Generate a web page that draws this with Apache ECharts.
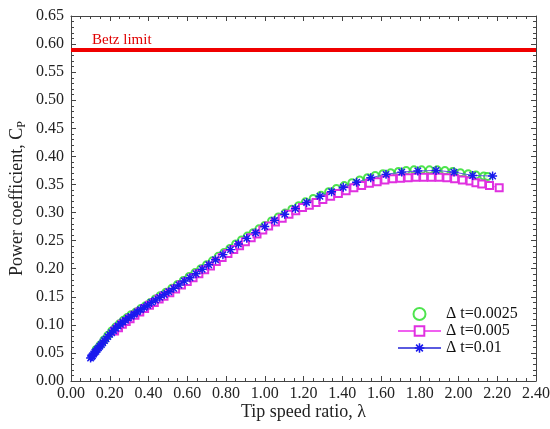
<!DOCTYPE html>
<html>
<head>
<meta charset="utf-8">
<script src="https://cdn.jsdelivr.net/npm/echarts@6/dist/echarts.min.js"></script>
<style>
  html, body { margin: 0; padding: 0; background: #fff; }
  #chart { width: 550px; height: 429px; }
</style>
</head>
<body>
<div id="chart"></div>
<script>
// tick settings
const xMin = 0, xMax = 2.4, xStep = 0.2
const yMin = 0, yMax = 0.65, yStep = 0.05
const betzLimit = 0.593

const seriesNames = ['Δ t=0.0025', 'Δ t=0.005', 'Δ t=0.01']

// Δt = 0.0025 (green circles)
const lambdaA = [0.130, 0.150, 0.170, 0.190, 0.210, 0.230, 0.250, 0.270, 0.290, 0.310,
  0.335, 0.360, 0.385, 0.410, 0.435, 0.460, 0.490, 0.520, 0.550, 0.580,
  0.610, 0.640, 0.670, 0.700, 0.730, 0.760, 0.790, 0.820, 0.850, 0.880,
  0.910, 0.940, 0.970, 1.000, 1.035, 1.070, 1.105, 1.140, 1.175, 1.210,
  1.250, 1.290, 1.330, 1.370, 1.410, 1.450, 1.490, 1.530, 1.570, 1.610,
  1.650, 1.690, 1.730, 1.770, 1.810, 1.850, 1.890, 1.930, 1.970, 2.010,
  2.050, 2.090, 2.130, 2.150]
const cpA = [0.056, 0.064, 0.073, 0.081, 0.089, 0.096, 0.102, 0.108, 0.113, 0.118,
  0.123, 0.129, 0.134, 0.140, 0.146, 0.152, 0.158, 0.165, 0.172, 0.179,
  0.186, 0.193, 0.200, 0.207, 0.214, 0.222, 0.229, 0.236, 0.244, 0.251,
  0.258, 0.264, 0.271, 0.277, 0.285, 0.292, 0.299, 0.306, 0.312, 0.319,
  0.325, 0.331, 0.337, 0.343, 0.348, 0.353, 0.358, 0.362, 0.366, 0.369,
  0.371, 0.373, 0.375, 0.376, 0.376, 0.376, 0.376, 0.375, 0.373, 0.371,
  0.369, 0.367, 0.365, 0.364]

// Δt = 0.005 (magenta squares)
const lambdaB = [0.225, 0.245, 0.265, 0.285, 0.305, 0.330, 0.355, 0.380, 0.405, 0.430,
  0.455, 0.480, 0.510, 0.540, 0.570, 0.600, 0.630, 0.660, 0.690, 0.720,
  0.750, 0.780, 0.810, 0.840, 0.870, 0.900, 0.930, 0.960, 0.990, 1.020,
  1.055, 1.090, 1.125, 1.160, 1.195, 1.230, 1.265, 1.300, 1.340, 1.380,
  1.420, 1.460, 1.500, 1.540, 1.580, 1.620, 1.660, 1.700, 1.740, 1.780,
  1.820, 1.860, 1.900, 1.940, 1.980, 2.020, 2.060, 2.090, 2.120, 2.160,
  2.210]
const cpB = [0.089, 0.095, 0.101, 0.106, 0.111, 0.117, 0.123, 0.129, 0.135, 0.140,
  0.146, 0.151, 0.157, 0.164, 0.171, 0.177, 0.184, 0.191, 0.198, 0.205,
  0.213, 0.220, 0.227, 0.234, 0.241, 0.248, 0.255, 0.262, 0.269, 0.276,
  0.283, 0.290, 0.297, 0.303, 0.309, 0.313, 0.318, 0.323, 0.329, 0.334,
  0.339, 0.344, 0.348, 0.352, 0.355, 0.358, 0.360, 0.361, 0.362, 0.363,
  0.363, 0.363, 0.363, 0.362, 0.360, 0.358, 0.356, 0.353, 0.351, 0.348,
  0.344]

// Δt = 0.01 (blue stars)
const lambdaC = [0.101, 0.106, 0.111, 0.117, 0.123, 0.129, 0.135, 0.142, 0.149, 0.157,
  0.164, 0.173, 0.181, 0.190, 0.200, 0.210, 0.220, 0.231, 0.243, 0.255,
  0.268, 0.281, 0.295, 0.310, 0.326, 0.342, 0.359, 0.377, 0.396, 0.416,
  0.436, 0.458, 0.481, 0.505, 0.530, 0.557, 0.585, 0.614, 0.645, 0.677,
  0.711, 0.746, 0.784, 0.823, 0.864, 0.907, 0.953, 1.000, 1.050, 1.103,
  1.158, 1.216, 1.285, 1.345, 1.405, 1.474, 1.547, 1.626, 1.707, 1.790,
  1.884, 1.977, 2.073, 2.176]
const cpC = [0.041, 0.043, 0.045, 0.048, 0.051, 0.053, 0.056, 0.059, 0.062, 0.065,
  0.068, 0.072, 0.075, 0.079, 0.083, 0.086, 0.090, 0.094, 0.098, 0.101,
  0.105, 0.108, 0.112, 0.115, 0.119, 0.123, 0.127, 0.131, 0.135, 0.140,
  0.144, 0.149, 0.154, 0.159, 0.165, 0.171, 0.178, 0.184, 0.191, 0.199,
  0.207, 0.216, 0.225, 0.234, 0.244, 0.254, 0.264, 0.275, 0.286, 0.297,
  0.307, 0.318, 0.329, 0.337, 0.345, 0.354, 0.362, 0.368, 0.372, 0.374,
  0.375, 0.372, 0.366, 0.365]

const pairs = (xs, ys) => xs.map((x, i) => [x, ys[i]])

const serif = 'Liberation Serif, Times New Roman, serif'
const axisColor = '#444'
const textColor = '#222'

// asterisk marker
const starPath = 'path://M4.2 0L5.8 0L5.8 10L4.2 10Z M0 4.2L10 4.2L10 5.8L0 5.8Z' +
  'M0.89 2.03L2.03 0.89L9.11 7.97L7.97 9.11Z M0.89 7.97L7.97 0.89L9.11 2.03L2.03 9.11Z'

const baseAxis = (min, max, interval, minorSplit) => ({
  type: 'value',
  min: min,
  max: max,
  interval: interval,
  axisLine: { show: true, onZero: false, lineStyle: { color: axisColor, width: 1 } },
  axisTick: { show: true, inside: true, length: 5, lineStyle: { color: axisColor } },
  minorTick: { show: true, splitNumber: minorSplit, length: 3, lineStyle: { color: axisColor } },
  splitLine: { show: false },
  minorSplitLine: { show: false }
})

const chart = echarts.init(document.getElementById('chart'))

chart.setOption({
  animation: false,
  backgroundColor: '#fff',
  grid: { left: 71, right: 14, top: 16, bottom: 48, outerBoundsMode: 'none', containLabel: false },
  legend: {
    data: seriesNames,
    orient: 'vertical',
    left: 397,
    top: 306,
    padding: 0,
    itemWidth: 43,
    itemHeight: 12,
    itemGap: 1,
    textStyle: { fontFamily: serif, fontSize: 16, color: '#111' }
  },
  xAxis: [
    Object.assign(baseAxis(xMin, xMax, xStep, 4), {
      position: 'bottom',
      name: 'Tip speed ratio, λ',
      nameLocation: 'middle',
      nameGap: 22,
      nameMoveOverlap: false,
      nameTextStyle: { fontFamily: serif, fontSize: 18, color: textColor },
      axisLabel: {
        formatter: v => v.toFixed(2),
        fontFamily: serif, fontSize: 16, color: textColor, margin: 5
      }
    }),
    Object.assign(baseAxis(xMin, xMax, xStep, 4), {
      position: 'top',
      axisLabel: { show: false }
    })
  ],
  yAxis: [
    Object.assign(baseAxis(yMin, yMax, yStep, 5), {
      position: 'left',
      name: 'Power coefficient, C{sub|P}',
      nameLocation: 'middle',
      nameGap: 43,
      nameMoveOverlap: false,
      nameTextStyle: {
        fontFamily: serif, fontSize: 18, color: textColor,
        rich: { sub: { fontFamily: serif, fontSize: 12, color: textColor, padding: [9, 0, 0, 0] } }
      },
      axisLabel: {
        formatter: v => v.toFixed(2),
        fontFamily: serif, fontSize: 16, color: textColor, margin: 7
      }
    }),
    Object.assign(baseAxis(yMin, yMax, yStep, 5), {
      position: 'right',
      axisLabel: { show: false }
    })
  ],
  series: [
    {
      name: 'Betz limit',
      type: 'line',
      data: [],
      markLine: {
        silent: true,
        symbol: 'none',
        lineStyle: { color: '#f00000', width: 4, type: 'solid' },
        label: {
          formatter: 'Betz limit',
          position: 'insideStartTop',
          distance: [21, 2],
          color: '#e00000',
          fontFamily: serif,
          fontSize: 15
        },
        data: [{ yAxis: betzLimit }]
      }
    },
    {
      name: seriesNames[0],
      type: 'scatter',
      data: pairs(lambdaA, cpA),
      symbol: 'emptyCircle',
      symbolSize: 7,
      itemStyle: { color: '#22dd22', borderWidth: 1.2 }
    },
    {
      name: seriesNames[1],
      type: 'line',
      data: pairs(lambdaB, cpB),
      symbol: 'emptyRect',
      symbolSize: 7,
      showAllSymbol: true,
      itemStyle: { color: '#e030e0', borderWidth: 1.2 },
      lineStyle: { color: '#f060f0', width: 1 }
    },
    {
      name: seriesNames[2],
      type: 'line',
      data: pairs(lambdaC, cpC),
      symbol: starPath,
      symbolSize: 9,
      showAllSymbol: true,
      itemStyle: { color: '#1a1aee' },
      lineStyle: { color: '#5a5ae0', width: 1 }
    }
  ]
})
</script>
</body>
</html>
